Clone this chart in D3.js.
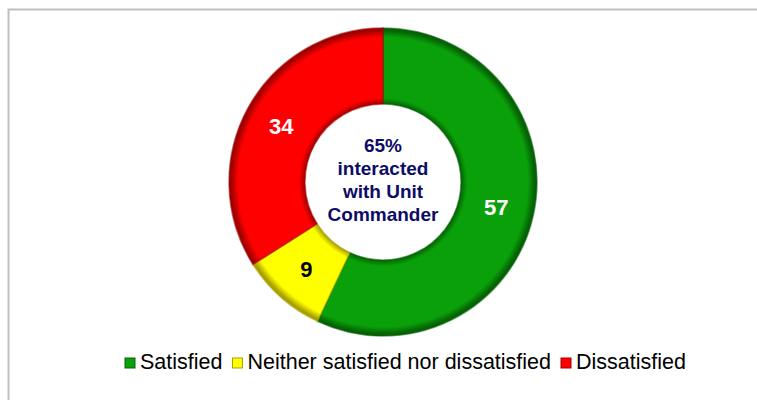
<!DOCTYPE html>
<html>
<head>
<meta charset="utf-8">
<script src="https://cdn.jsdelivr.net/npm/d3@7"></script>
<style>
  html, body { margin: 0; padding: 0; background: #ffffff; }
  svg { display: block; }
</style>
</head>
<body>
<svg id="chart" width="757" height="400"></svg>
<script>
// ---- data ----
const categories = ["Satisfied", "Neither satisfied nor dissatisfied", "Dissatisfied"];
const values = [57, 9, 34];
const colors = ["#0aa00a", "#ffff00", "#ff0000"];
const darkColors = ["#056205", "#a8a000", "#a00000"];
const labelColors = ["#ffffff", "#000000", "#ffffff"];
const centerLines = ["65%", "interacted", "with Unit", "Commander"];

const svg = d3.select("#chart");
const W = 757, H = 400;

// frame
svg.append("rect")
  .attr("x", 8.5).attr("y", 9.5).attr("width", 800).attr("height", 450)
  .attr("fill", "#ffffff").attr("stroke", "#bfbfbf").attr("stroke-width", 2);

const cx = 383, cy = 182, rOuter = 154, rInner = 78;
const g = svg.append("g").attr("transform", `translate(${cx},${cy})`);

const defs = svg.append("defs");
const k = rInner / rOuter;
values.forEach((v, i) => {
  const grad = defs.append("radialGradient")
    .attr("id", "grad" + i)
    .attr("gradientUnits", "userSpaceOnUse")
    .attr("cx", 0).attr("cy", 0).attr("r", rOuter);
  const stops = [
    [k, darkColors[i]],
    [k + 0.04, colors[i]],
    [0.94, colors[i]],
    [0.985, darkColors[i]],
    [1, darkColors[i]]
  ];
  stops.forEach(s => grad.append("stop").attr("offset", s[0]).attr("stop-color", s[1]));
});

const pie = d3.pie().sort(null).value(d => d)
  .startAngle(0).endAngle(2 * Math.PI);
const arcs = pie(values);
const arc = d3.arc().innerRadius(rInner).outerRadius(rOuter);

g.selectAll("path.slice")
  .data(arcs)
  .enter().append("path")
  .attr("class", "slice")
  .attr("d", arc)
  .attr("fill", (d, i) => `url(#grad${i})`)
  .attr("stroke", (d, i) => darkColors[i])
  .attr("stroke-opacity", 0.55)
  .attr("stroke-width", 1.5);

const labelArc = d3.arc().innerRadius((rInner + rOuter) / 2).outerRadius((rInner + rOuter) / 2);
g.selectAll("text.val")
  .data(arcs)
  .enter().append("text")
  .attr("class", "val")
  .attr("transform", d => `translate(${labelArc.centroid(d)})`)
  .attr("text-anchor", "middle")
  .attr("dy", "0.36em")
  .attr("font-family", "'Liberation Sans', Arial, sans-serif")
  .attr("font-weight", "bold")
  .attr("font-size", 22)
  .attr("fill", (d, i) => labelColors[i])
  .text(d => d.data);

// center text
const ct = g.append("text")
  .attr("text-anchor", "middle")
  .attr("font-family", "'Liberation Sans', Arial, sans-serif")
  .attr("font-weight", "bold")
  .attr("font-size", 19)
  .attr("fill", "#0c0c66");
centerLines.forEach((t, i) => {
  ct.append("tspan").attr("x", 0).attr("y", 152 - cy + i * 23).text(t);
});

// legend
const legend = svg.append("g");
let x = 125;
const baseY = 369;
categories.forEach((c, i) => {
  legend.append("rect")
    .attr("x", x).attr("y", 358).attr("width", 10).attr("height", 10)
    .attr("fill", colors[i]).attr("stroke", darkColors[i]).attr("stroke-width", 1);
  const t = legend.append("text")
    .attr("x", x + 15).attr("y", baseY)
    .attr("font-family", "'Liberation Sans', Arial, sans-serif")
    .attr("font-size", 21.5)
    .attr("fill", "#000000")
    .text(c);
  const w = t.node().getComputedTextLength();
  x = x + 15 + w + 10;
});
</script>
</body>
</html>
